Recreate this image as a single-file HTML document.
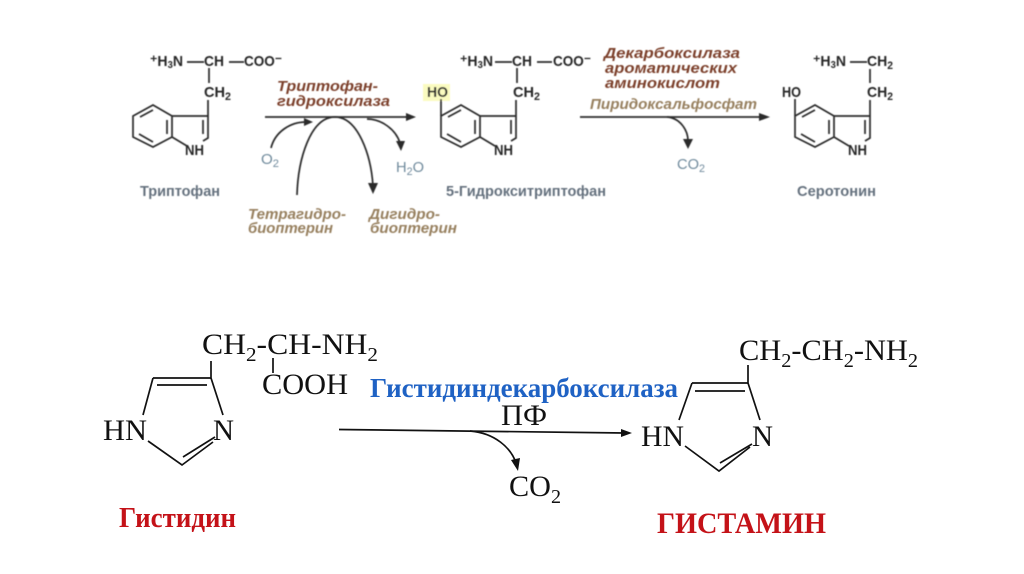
<!DOCTYPE html>
<html lang="ru">
<head>
<meta charset="utf-8">
<title>Триптофан, серотонин, гистидин, гистамин</title>
<style>
html,body{margin:0;padding:0;background:#fff;width:1024px;height:574px;overflow:hidden}
svg{display:block}
.s{font-family:"Liberation Sans",sans-serif;font-weight:bold;font-size:15px;fill:#262626}
.n{font-family:"Liberation Sans",sans-serif;font-weight:bold;font-size:15px;fill:#65717e}
.g{font-family:"Liberation Sans",sans-serif;font-size:15px;fill:#6f8a9c}
.e{font-family:"Liberation Sans",sans-serif;font-weight:bold;font-style:italic;font-size:14.5px;fill:#7c3f2c}
.t{font-family:"Liberation Sans",sans-serif;font-weight:bold;font-style:italic;font-size:14.5px;fill:#97805f}
.b{font-family:"Liberation Serif",serif;font-size:30px;fill:#111}
.r{font-family:"Liberation Serif",serif;font-weight:bold;fill:#c41218}
.l{stroke:#2c2c2c;stroke-width:1.7;fill:none}
.k{stroke:#111;stroke-width:1.7;fill:none}
</style>
</head>
<body>
<svg width="1024" height="574" viewBox="0 0 1024 574" xmlns="http://www.w3.org/2000/svg">
<defs>
<filter id="soft" filterUnits="userSpaceOnUse" x="0" y="0" width="1024" height="574"><feGaussianBlur stdDeviation="0.4"/></filter>
<g id="ring">
<path class="l" d="M153 105L172 116L172 137L153 147L133 137L133 116Z"/>
<path class="l" d="M153 110L140 117M167 120L167 134M139 134L153 142"/>
<path class="l" d="M172 116L208 116L208 138L203 141M172 137L187 146M203 120L203 134M208 116L208 100"/>
</g>
</defs>

<g filter="url(#soft)">
<rect x="423" y="84" width="27" height="17" fill="#fafbc0"/>

<!-- Tryptophan -->
<use href="#ring"/>
<text class="s" x="150" y="66" textLength="33" lengthAdjust="spacingAndGlyphs">⁺H<tspan font-size="10" dy="2">3</tspan><tspan dy="-2">N</tspan></text>
<path class="l" d="M187 62H204M229 62H244M209 68V83"/>
<text class="s" x="204" y="66" textLength="20" lengthAdjust="spacingAndGlyphs">CH</text>
<text class="s" x="244" y="66" textLength="38" lengthAdjust="spacingAndGlyphs">COO⁻</text>
<text class="s" x="204" y="97" textLength="27" lengthAdjust="spacingAndGlyphs">CH<tspan font-size="11" dy="3">2</tspan></text>
<text class="s" x="185" y="155" textLength="19" lengthAdjust="spacingAndGlyphs">NH</text>
<text class="n" x="140" y="196" textLength="80" lengthAdjust="spacingAndGlyphs">Триптофан</text>

<!-- 5-HTP -->
<use href="#ring" transform="translate(308,0)"/>
<path class="l" d="M441 99V116"/>
<text class="s" x="427" y="97" textLength="21" lengthAdjust="spacingAndGlyphs">HO</text>
<text class="s" x="460" y="66" textLength="33" lengthAdjust="spacingAndGlyphs">⁺H<tspan font-size="10" dy="2">3</tspan><tspan dy="-2">N</tspan></text>
<path class="l" d="M495 62H512M537 62H552M517 68V83"/>
<text class="s" x="512" y="66" textLength="20" lengthAdjust="spacingAndGlyphs">CH</text>
<text class="s" x="553" y="66" textLength="38" lengthAdjust="spacingAndGlyphs">COO⁻</text>
<text class="s" x="513" y="97" textLength="27" lengthAdjust="spacingAndGlyphs">CH<tspan font-size="11" dy="3">2</tspan></text>
<text class="s" x="494" y="155" textLength="19" lengthAdjust="spacingAndGlyphs">NH</text>
<text class="n" x="446" y="196" textLength="160" lengthAdjust="spacingAndGlyphs">5-Гидрокситриптофан</text>

<!-- Serotonin -->
<use href="#ring" transform="translate(662,0)"/>
<path class="l" d="M795 99V116M850 62H867M870 69V83"/>
<text class="s" x="782" y="97" textLength="19" lengthAdjust="spacingAndGlyphs">HO</text>
<text class="s" x="813" y="66" textLength="33" lengthAdjust="spacingAndGlyphs">⁺H<tspan font-size="10" dy="2">3</tspan><tspan dy="-2">N</tspan></text>
<text class="s" x="867" y="66" textLength="26" lengthAdjust="spacingAndGlyphs">CH<tspan font-size="11" dy="3">2</tspan></text>
<text class="s" x="867" y="97" textLength="26" lengthAdjust="spacingAndGlyphs">CH<tspan font-size="11" dy="3">2</tspan></text>
<text class="s" x="848" y="155" textLength="19" lengthAdjust="spacingAndGlyphs">NH</text>
<text class="n" x="797" y="196" textLength="79" lengthAdjust="spacingAndGlyphs">Серотонин</text>

<!-- Top arrows -->
<path class="l" d="M265 117H408"/>
<path d="M416 117L406 113V121Z" fill="#2c2c2c"/>
<path class="l" d="M271 148C275 132 290 122 306 122"/>
<path d="M313 122L304 118V126Z" fill="#2c2c2c"/>
<path class="l" d="M297 195C298 160 310 117 335 117C358 117 371 155 373 186"/>
<path d="M373 194L368 183H378Z" fill="#2c2c2c"/>
<path class="l" d="M367 119C382 119 396 130 400 143"/>
<path d="M401 151L396 141H405Z" fill="#2c2c2c"/>
<path class="l" d="M580 117H762"/>
<path d="M770 117L759 113V121Z" fill="#2c2c2c"/>
<path class="l" d="M667 117C680 118 688 130 688 141"/>
<path d="M688 149L683 139H693Z" fill="#2c2c2c"/>

<!-- Top labels -->
<text class="e" x="277" y="91" textLength="101" lengthAdjust="spacingAndGlyphs">Триптофан-</text>
<text class="e" x="277" y="106" textLength="113" lengthAdjust="spacingAndGlyphs">гидроксилаза</text>
<text class="g" x="261" y="164" textLength="18" lengthAdjust="spacingAndGlyphs">O<tspan font-size="11" dy="3">2</tspan></text>
<text class="g" x="396" y="172" textLength="28" lengthAdjust="spacingAndGlyphs">H<tspan font-size="11" dy="3">2</tspan><tspan dy="-3">O</tspan></text>
<text class="t" x="248" y="219" textLength="98" lengthAdjust="spacingAndGlyphs">Тетрагидро-</text>
<text class="t" x="248" y="233" textLength="85" lengthAdjust="spacingAndGlyphs">биоптерин</text>
<text class="t" x="369" y="219" textLength="71" lengthAdjust="spacingAndGlyphs">Дигидро-</text>
<text class="t" x="370" y="233" textLength="87" lengthAdjust="spacingAndGlyphs">биоптерин</text>
<text class="e" x="604" y="58" textLength="136" lengthAdjust="spacingAndGlyphs">Декарбоксилаза</text>
<text class="e" x="605" y="73" textLength="132" lengthAdjust="spacingAndGlyphs">ароматических</text>
<text class="e" x="605" y="88" textLength="115" lengthAdjust="spacingAndGlyphs">аминокислот</text>
<text class="t" x="590" y="109" textLength="167" lengthAdjust="spacingAndGlyphs">Пиридоксальфосфат</text>
<text class="g" x="677" y="169" textLength="28" lengthAdjust="spacingAndGlyphs">CO<tspan font-size="11" dy="3">2</tspan></text>
</g>

<!-- Histidine -->
<path class="k" d="M153 378H211L223 415M143 415L153 378M148 441L182 465L213 442M157 385H207M183 457L215 437M211 379V361M273 358V373"/>
<text class="b" x="202" y="354" textLength="176" lengthAdjust="spacingAndGlyphs">CH<tspan font-size="20" dy="7">2</tspan><tspan dy="-7">-CH-NH</tspan><tspan font-size="20" dy="7">2</tspan></text>
<text class="b" x="262" y="394" textLength="86" lengthAdjust="spacingAndGlyphs">COOH</text>
<text class="b" x="103" y="440" textLength="44" lengthAdjust="spacingAndGlyphs">HN</text>
<text class="b" x="213" y="440" textLength="21" lengthAdjust="spacingAndGlyphs">N</text>
<text class="r" x="119" y="527" font-size="28" textLength="117" lengthAdjust="spacingAndGlyphs">Гистидин</text>

<!-- Enzyme -->
<text x="370" y="397" font-family="'Liberation Serif',serif" font-weight="bold" font-size="27" fill="#1f62c4" textLength="308" lengthAdjust="spacingAndGlyphs">Гистидиндекарбоксилаза</text>
<text class="b" x="501" y="425" textLength="46" lengthAdjust="spacingAndGlyphs">ПФ</text>
<path class="k" d="M339 429.500L624 433"/>
<path d="M632 433L621 429V437Z" fill="#111"/>
<path class="k" d="M470 431C495 433 511 448 516 463"/>
<path d="M518 471L511 460L520 458Z" fill="#111"/>
<text class="b" x="509" y="496" textLength="52" lengthAdjust="spacingAndGlyphs">CO<tspan font-size="20" dy="7">2</tspan></text>

<!-- Histamine -->
<path class="k" d="M692 383H748L760 420M679 420L692 383M685 446L719 471L750 447M695 391H745M720 463L752 444M748 384V365"/>
<text class="b" x="739" y="360" textLength="179" lengthAdjust="spacingAndGlyphs">CH<tspan font-size="20" dy="7">2</tspan><tspan dy="-7">-CH</tspan><tspan font-size="20" dy="7">2</tspan><tspan dy="-7">-NH</tspan><tspan font-size="20" dy="7">2</tspan></text>
<text class="b" x="641" y="446" textLength="43" lengthAdjust="spacingAndGlyphs">HN</text>
<text class="b" x="752" y="446" textLength="21" lengthAdjust="spacingAndGlyphs">N</text>
<text class="r" x="657" y="533" font-size="30" textLength="169" lengthAdjust="spacingAndGlyphs">ГИСТАМИН</text>
</svg>
</body>
</html>
